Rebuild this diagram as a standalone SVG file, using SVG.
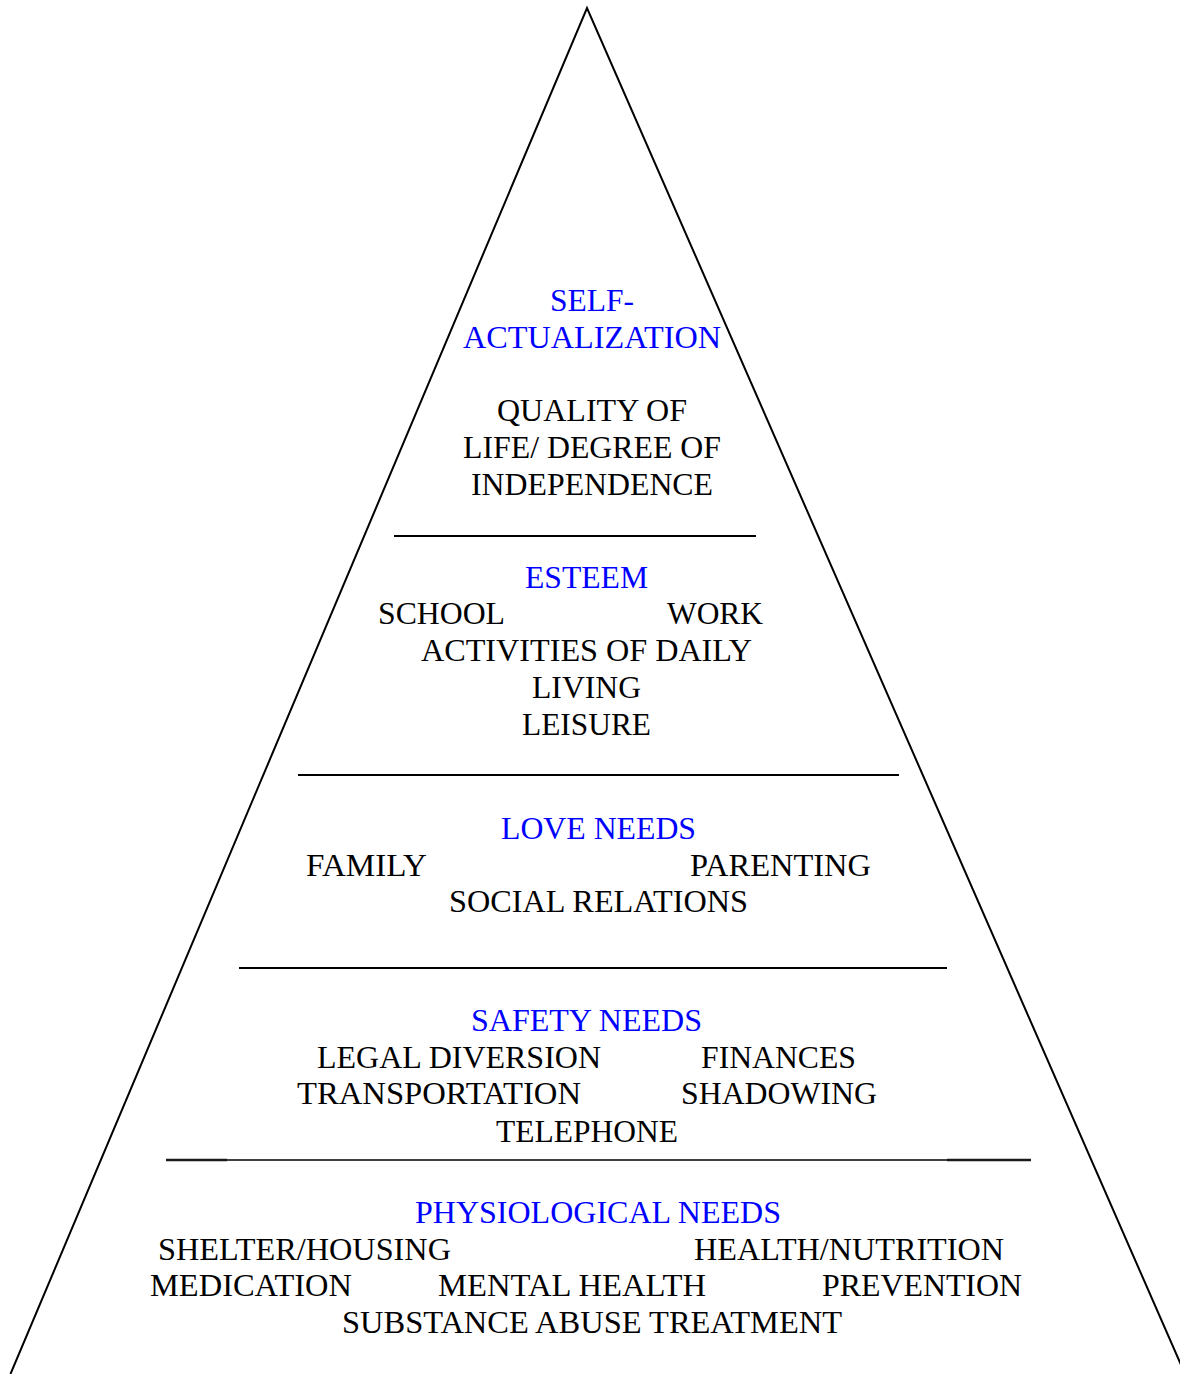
<svg xmlns="http://www.w3.org/2000/svg" width="1180" height="1374" viewBox="0 0 1180 1374">
  <style>
    .label { font-family: 'Liberation Serif', 'DejaVu Serif', serif; font-size: 32px; fill: #000; }
    .head { fill: #0000ff; }
    .edge { fill: none; stroke: #000; stroke-width: 2; }
    .rule { stroke: #000; stroke-width: 2; }
    .rule-thin { stroke: #000; stroke-width: 1.5; }
    .rule-end { stroke: #1a1a1a; stroke-width: 2.6; }
  </style>
  <rect width="1180" height="1374" fill="#fff"/>

  <!-- pyramid outline and tier dividers -->
  <g id="connectors">
    <polyline class="edge" points="10.5,1374 587,8 1185,1374"/>
    <line class="rule" x1="394" y1="536" x2="756" y2="536"/>
    <line class="rule" x1="298" y1="775" x2="899" y2="775"/>
    <line class="rule" x1="239" y1="968" x2="947" y2="968"/>
    <line class="rule-thin" x1="166" y1="1160" x2="1031" y2="1160"/>
    <line class="rule-end" x1="166" y1="1160" x2="227" y2="1160"/>
    <line class="rule-end" x1="947" y1="1160" x2="1031" y2="1160"/>
  </g>

  <g class="label" font-family="Liberation Serif, DejaVu Serif, serif">
    <!-- tier 5 -->
    <g id="self-actualization">
      <text class="head" x="550" y="311" textLength="84" lengthAdjust="spacingAndGlyphs">SELF-</text>
      <text class="head" x="463" y="348" textLength="258" lengthAdjust="spacingAndGlyphs">ACTUALIZATION</text>
      <text x="497" y="421" textLength="190" lengthAdjust="spacingAndGlyphs">QUALITY OF</text>
      <text x="463" y="458" textLength="258" lengthAdjust="spacingAndGlyphs">LIFE/ DEGREE OF</text>
      <text x="471" y="495" textLength="242" lengthAdjust="spacingAndGlyphs">INDEPENDENCE</text>
    </g>

    <!-- tier 4 -->
    <g id="esteem">
      <text class="head" x="525" y="588" textLength="123" lengthAdjust="spacingAndGlyphs">ESTEEM</text>
      <text x="378" y="624" textLength="127" lengthAdjust="spacingAndGlyphs">SCHOOL</text>
      <text x="667" y="624" textLength="96" lengthAdjust="spacingAndGlyphs">WORK</text>
      <text x="421" y="661" textLength="331" lengthAdjust="spacingAndGlyphs">ACTIVITIES OF DAILY</text>
      <text x="532" y="698" textLength="109" lengthAdjust="spacingAndGlyphs">LIVING</text>
      <text x="522" y="735" textLength="129" lengthAdjust="spacingAndGlyphs">LEISURE</text>
    </g>

    <!-- tier 3 -->
    <g id="love-needs">
      <text class="head" x="501" y="839" textLength="195" lengthAdjust="spacingAndGlyphs">LOVE NEEDS</text>
      <text x="306" y="876" textLength="121" lengthAdjust="spacingAndGlyphs">FAMILY</text>
      <text x="690" y="876" textLength="181" lengthAdjust="spacingAndGlyphs">PARENTING</text>
      <text x="449" y="912" textLength="299" lengthAdjust="spacingAndGlyphs">SOCIAL RELATIONS</text>
    </g>

    <!-- tier 2 -->
    <g id="safety-needs">
      <text class="head" x="471" y="1031" textLength="231" lengthAdjust="spacingAndGlyphs">SAFETY NEEDS</text>
      <text x="317" y="1068" textLength="284" lengthAdjust="spacingAndGlyphs">LEGAL DIVERSION</text>
      <text x="701" y="1068" textLength="155" lengthAdjust="spacingAndGlyphs">FINANCES</text>
      <text x="297" y="1104" textLength="284" lengthAdjust="spacingAndGlyphs">TRANSPORTATION</text>
      <text x="681" y="1104" textLength="196" lengthAdjust="spacingAndGlyphs">SHADOWING</text>
      <text x="496" y="1142" textLength="182" lengthAdjust="spacingAndGlyphs">TELEPHONE</text>
    </g>

    <!-- tier 1 -->
    <g id="physiological-needs">
      <text class="head" x="415" y="1223" textLength="366" lengthAdjust="spacingAndGlyphs">PHYSIOLOGICAL NEEDS</text>
      <text x="158" y="1260" textLength="293" lengthAdjust="spacingAndGlyphs">SHELTER/HOUSING</text>
      <text x="694" y="1260" textLength="310" lengthAdjust="spacingAndGlyphs">HEALTH/NUTRITION</text>
      <text x="150" y="1296" textLength="202" lengthAdjust="spacingAndGlyphs">MEDICATION</text>
      <text x="438" y="1296" textLength="268" lengthAdjust="spacingAndGlyphs">MENTAL HEALTH</text>
      <text x="822" y="1296" textLength="200" lengthAdjust="spacingAndGlyphs">PREVENTION</text>
      <text x="342" y="1333" textLength="500" lengthAdjust="spacingAndGlyphs">SUBSTANCE ABUSE TREATMENT</text>
    </g>
  </g>
</svg>
